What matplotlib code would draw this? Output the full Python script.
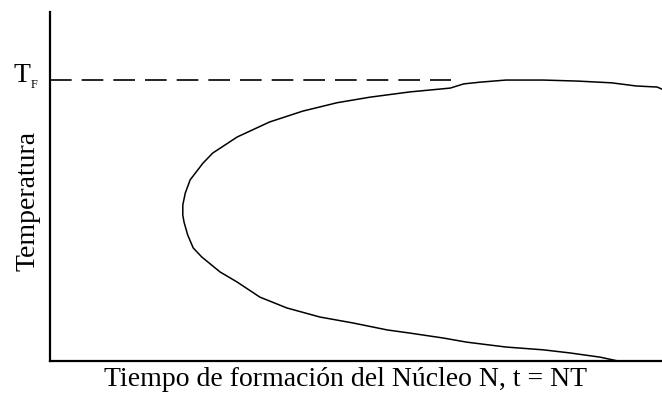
import matplotlib
matplotlib.use("Agg")
import matplotlib.pyplot as plt

# Nucleation time-temperature curve (arbitrary units, 0-100 on both axes)
time_curve = [100.0, 99.2, 95.8, 91.8, 86.3, 80.6, 74.5, 70.3, 67.6, 65.4, 58.8, 52.3,
              46.9, 41.3, 35.9, 30.6, 26.6, 25.0, 22.9, 22.1, 21.7, 21.7, 21.9, 22.5,
              23.4, 24.8, 27.8, 30.6, 34.3, 38.7, 44.1, 49.5, 55.1, 58.8, 64.2, 68.1,
              74.5, 80.6, 85.0, 89.9, 92.8]
temp_curve = [77.9, 78.5, 78.8, 79.7, 80.2, 80.5, 80.5, 79.9, 79.4, 78.2, 77.1, 75.6,
              74.0, 71.6, 68.5, 64.2, 59.6, 56.7, 51.9, 48.1, 44.7, 41.8, 39.8, 36.1,
              32.4, 29.8, 25.5, 22.6, 18.3, 15.2, 12.6, 10.9, 8.9, 8.0, 6.6, 5.4,
              4.0, 3.2, 2.3, 1.1, 0.0]
melt_temp = 80.5
melt_line_end = 65.5

W, H = 662, 398
fig = plt.figure(figsize=(W / 100, H / 100), dpi=100)
fig.patch.set_facecolor("white")
ax = fig.add_axes([50 / W, (H - 361) / H, (662 - 50) / W, (361 - 12) / H])
ax.set_xlim(0, 100)
ax.set_ylim(0, 100)

ax.plot(time_curve, temp_curve, color="black", lw=1.1, solid_joinstyle="round")
ax.plot([0, melt_line_end], [melt_temp, melt_temp], color="black", lw=1.2,
        dashes=(13, 6))

for side in ("top", "right"):
    ax.spines[side].set_visible(False)
for side in ("left", "bottom"):
    ax.spines[side].set_linewidth(1.6)
ax.set_xticks([])
ax.set_yticks([])

serif = ["Liberation Serif", "DejaVu Serif"]
fig.text(13 / W, 1 - 82 / H, "T", family=serif, fontsize=20, ha="left",
         va="baseline")
fig.text(31 / W, 1 - 88 / H, "F", family=serif, fontsize=9, ha="left",
         va="baseline")
fig.text(28 / W, 1 - 201 / H, "Temperatura", family=serif, fontsize=20,
         rotation=90, ha="center", va="center")
fig.text(345 / W, 1 - 386 / H, "Tiempo de formación del Núcleo N, t = NT",
         family=serif, fontsize=20, ha="center", va="baseline")

fig.savefig("out.png", dpi=100)
